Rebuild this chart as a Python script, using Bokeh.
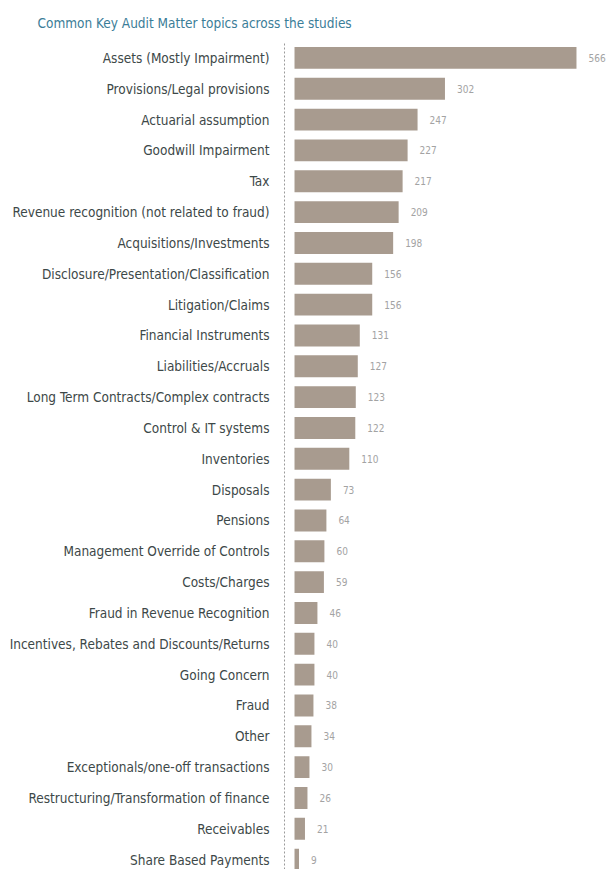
from bokeh.plotting import figure
from bokeh.models import ColumnDataSource, Range1d, FixedTicker
from bokeh.embed import file_html
from bokeh.resources import INLINE
from bokeh.core.properties import value

topics = [
    "Assets (Mostly Impairment)",
    "Provisions/Legal provisions",
    "Actuarial assumption",
    "Goodwill Impairment",
    "Tax",
    "Revenue recognition (not related to fraud)",
    "Acquisitions/Investments",
    "Disclosure/Presentation/Classification",
    "Litigation/Claims",
    "Financial Instruments",
    "Liabilities/Accruals",
    "Long Term Contracts/Complex contracts",
    "Control & IT systems",
    "Inventories",
    "Disposals",
    "Pensions",
    "Management Override of Controls",
    "Costs/Charges",
    "Fraud in Revenue Recognition",
    "Incentives, Rebates and Discounts/Returns",
    "Going Concern",
    "Fraud",
    "Other",
    "Exceptionals/one-off transactions",
    "Restructuring/Transformation of finance",
    "Receivables",
    "Share Based Payments",
]
counts = [566, 302, 247, 227, 217, 209, 198, 156, 156, 131, 127, 123, 122, 110,
          73, 64, 60, 59, 46, 40, 40, 38, 34, 30, 26, 21, 9]

n = len(topics)
ypos = [n - 1 - i for i in range(n)]
src = ColumnDataSource(dict(y=ypos, v=counts, lab=[str(c) for c in counts]))

LABEL_FONT = "DejaVu Sans Condensed"

p = figure(width=611, height=869, output_backend="svg", toolbar_location=None,
           x_range=Range1d(-20.1, 636.3), y_range=Range1d(-0.32, 26.5),
           min_border_left=284, min_border_right=0, min_border_bottom=0,
           min_border_top=42, outline_line_color=None,
           title="Common Key Audit Matter topics across the studies")

p.title.align = "left"
p.title.offset = -247
p.title.text_font = LABEL_FONT
p.title.text_font_size = "13.5px"
p.title.text_font_style = "normal"
p.title.text_color = "#3b7d98"
p.title.standoff = 23

p.hbar(y="y", left=0, right="v", height=0.71, source=src,
       fill_color="#a89b8f", line_color=None)
p.text(x="v", y="y", text="lab", source=src, x_offset=12,
       text_baseline="middle", text_align="left", text_font=value(LABEL_FONT),
       text_font_size="10px", text_color="#a3a3a3")

p.xaxis.visible = False
p.xgrid.visible = False
p.ygrid.visible = False

ya = p.yaxis[0]
ya.ticker = FixedTicker(ticks=ypos)
ya.major_label_overrides = {yy: t for yy, t in zip(ypos, topics)}
ya.axis_line_color = "#9a9a9a"
ya.axis_line_dash = "2 2"
ya.axis_line_width = 1
ya.major_tick_line_color = None
ya.minor_tick_line_color = None
ya.major_label_standoff = 9
ya.major_label_text_font = LABEL_FONT
ya.major_label_text_font_size = "13.5px"
ya.major_label_text_color = "#3d4848"

open("out.html", "w").write(file_html(p, INLINE))
